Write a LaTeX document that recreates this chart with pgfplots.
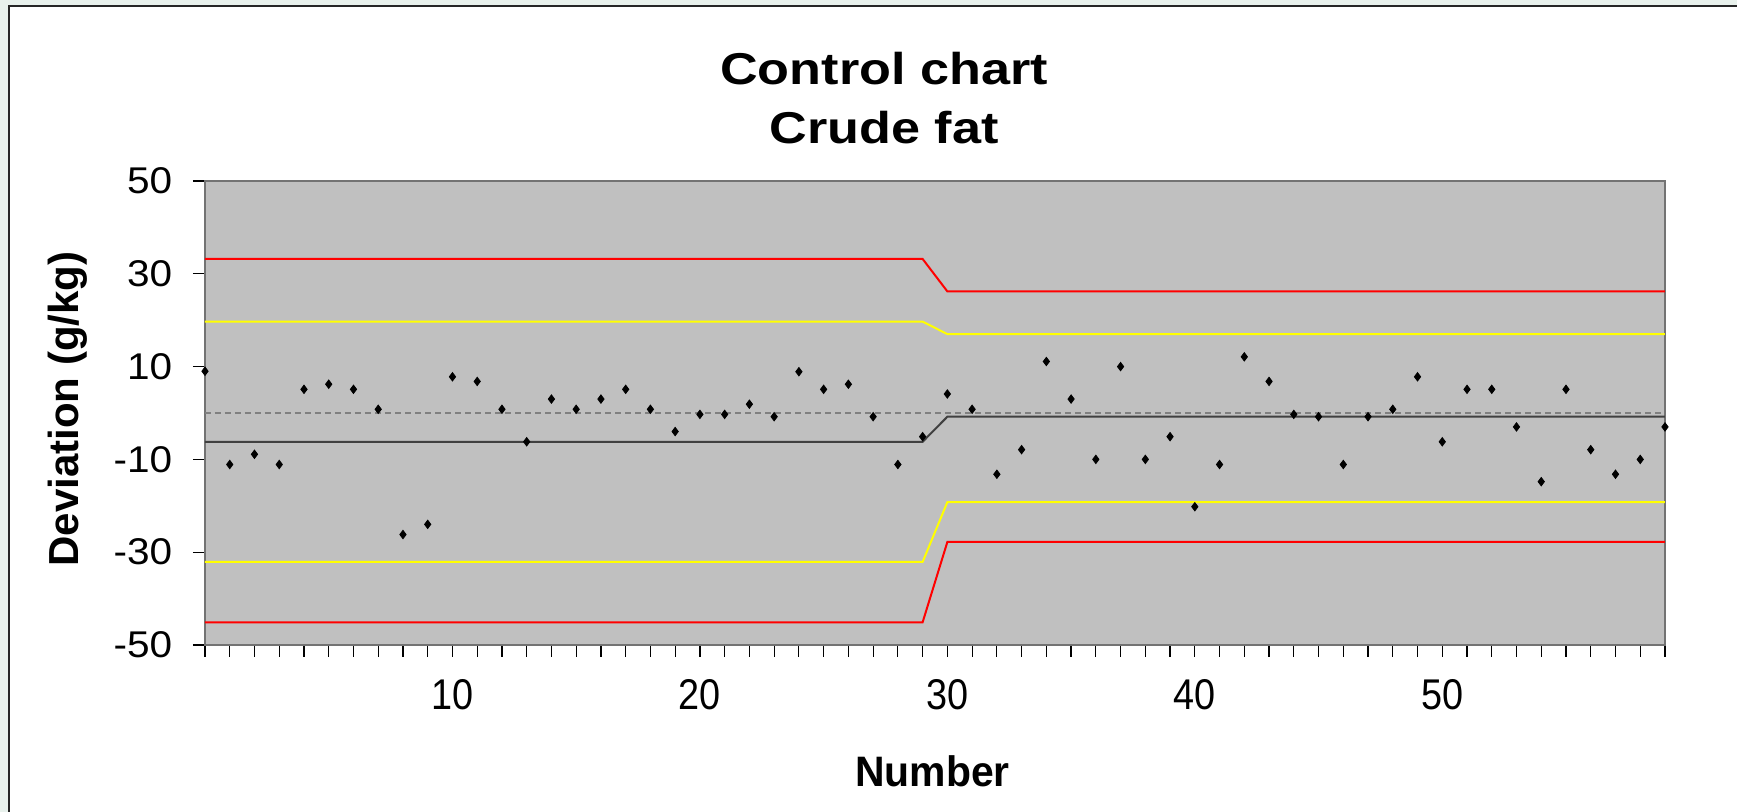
\documentclass[border=0pt]{standalone}
\usepackage{pgfplots}
\pgfplotsset{compat=1.18}
\usepackage{pgfplotstable}
\usepackage{fontspec}
\setmainfont{Liberation Sans}
\newfontfamily\titlefont[FakeStretch=1.17]{Liberation Sans}
\newfontfamily\ytickfont[FakeStretch=1.09]{Liberation Sans}
\newfontfamily\xtickfont[FakeStretch=0.88]{Liberation Sans}
\newfontfamily\xlabfont[FakeStretch=0.96]{Liberation Sans}
\definecolor{plotbg}{HTML}{C0C0C0}
\definecolor{outbg}{HTML}{E8F1EC}
\definecolor{limred}{HTML}{FF0000}
\definecolor{limyellow}{HTML}{FFFF00}
\definecolor{meanline}{HTML}{404040}
\definecolor{zeroline}{HTML}{808080}

\pgfplotstableread{
x y
0 9.0
1 -11.1
2 -8.9
3 -11.1
4 5.1
5 6.2
6 5.1
7 0.8
8 -26.2
9 -24.0
10 7.8
11 6.8
12 0.8
13 -6.2
14 3.0
15 0.8
16 3.0
17 5.1
18 0.8
19 -4.0
20 -0.3
21 -0.3
22 1.9
23 -0.8
24 8.9
25 5.1
26 6.2
27 -0.8
28 -11.1
29 -5.1
30 4.1
31 0.8
32 -13.2
33 -7.9
34 11.1
35 3.0
36 -10.0
37 10.0
38 -10.0
39 -5.1
40 -20.2
41 -11.1
42 12.1
43 6.8
44 -0.3
45 -0.8
46 -11.1
47 -0.8
48 0.8
49 7.8
50 -6.2
51 5.1
52 5.1
53 -3.0
54 -14.8
55 5.1
56 -7.9
57 -13.2
58 -10.0
59 -3.0
}\points

\pgfplotstableread{
x ucl uwl mean lwl lcl zero
0  33.2 19.7 -6.2 -32.1 -45.1 0
29 33.2 19.7 -6.2 -32.1 -45.1 0
30 26.2 17.0 -0.8 -19.2 -27.8 0
59 26.2 17.0 -0.8 -19.2 -27.8 0
}\limits

\begin{document}
\begin{tikzpicture}
\fill[outbg] (0,0) rectangle (868.5pt,406pt);
\fill[white] (4.65pt,0) rectangle (868.5pt,403.15pt);
\draw[line width=1pt, black!85] (4.65pt,0) -- (4.65pt,403.15pt) -- (868.5pt,403.15pt);
\begin{axis}[
  at={(102.5pt,83.5pt)}, anchor=south west,
  width=730pt, height=232pt, scale only axis,
  xmin=0, xmax=59, ymin=-50, ymax=50,
  clip=false,
  axis background/.style={fill=plotbg},
  axis line style={draw=black!55, line width=1pt},
  tick align=outside,
  xtick pos=bottom, ytick pos=left,
  major tick length=6pt,
  tick style={black, line width=0.6pt},
  xtick={0,...,59},
  xticklabels={},
  extra x ticks={10,20,30,40,50},
  extra x tick labels={10,20,30,40,50},
  extra x tick style={major tick length=0pt},
  xticklabel style={font=\xtickfont\fontsize{21.5}{23}\selectfont, anchor=center, inner sep=0pt, yshift=-25pt},
  ytick={-50,-30,-10,10,30,50},
  yticklabels={-50,-30,-10,10,30,50},
  yticklabel style={font=\ytickfont\fontsize{18.6}{20}\selectfont, anchor=east, inner sep=0pt, xshift=-10.2pt},
  xlabel={Number},
  xlabel style={font=\xlabfont\bfseries\fontsize{21.3}{23}\selectfont, at={(axis description cs:0.4983,-0.306)}, anchor=base},
  ylabel={Deviation (g/kg)},
  ylabel style={font=\bfseries\fontsize{21}{23}\selectfont, at={(axis description cs:-0.0866,0.5086)}, anchor=base, rotate=0},
]
\addplot[limred, line width=1pt] table[x=x, y=ucl] {\limits};
\addplot[limyellow, line width=1pt] table[x=x, y=uwl] {\limits};
\addplot[meanline, line width=1pt] table[x=x, y=mean] {\limits};
\addplot[limyellow, line width=1pt] table[x=x, y=lwl] {\limits};
\addplot[limred, line width=1pt] table[x=x, y=lcl] {\limits};
\addplot[zeroline, line width=1pt, dash pattern=on 3pt off 2pt] table[x=x, y=zero] {\limits};
\addplot[only marks, mark=diamond*, mark size=2.1pt, black, mark options={fill=black}] table[x=x, y=y] {\points};
\node[font=\titlefont\bfseries\fontsize{22.3}{26}\selectfont, anchor=base] at (axis description cs:0.4651,1.209) {Control chart};
\node[font=\titlefont\bfseries\fontsize{22.3}{26}\selectfont, anchor=base] at (axis description cs:0.4651,1.0808) {Crude fat};
\end{axis}
\pgfresetboundingbox
\useasboundingbox (0,0) rectangle (868.5pt,406pt);
\end{tikzpicture}
\end{document}
